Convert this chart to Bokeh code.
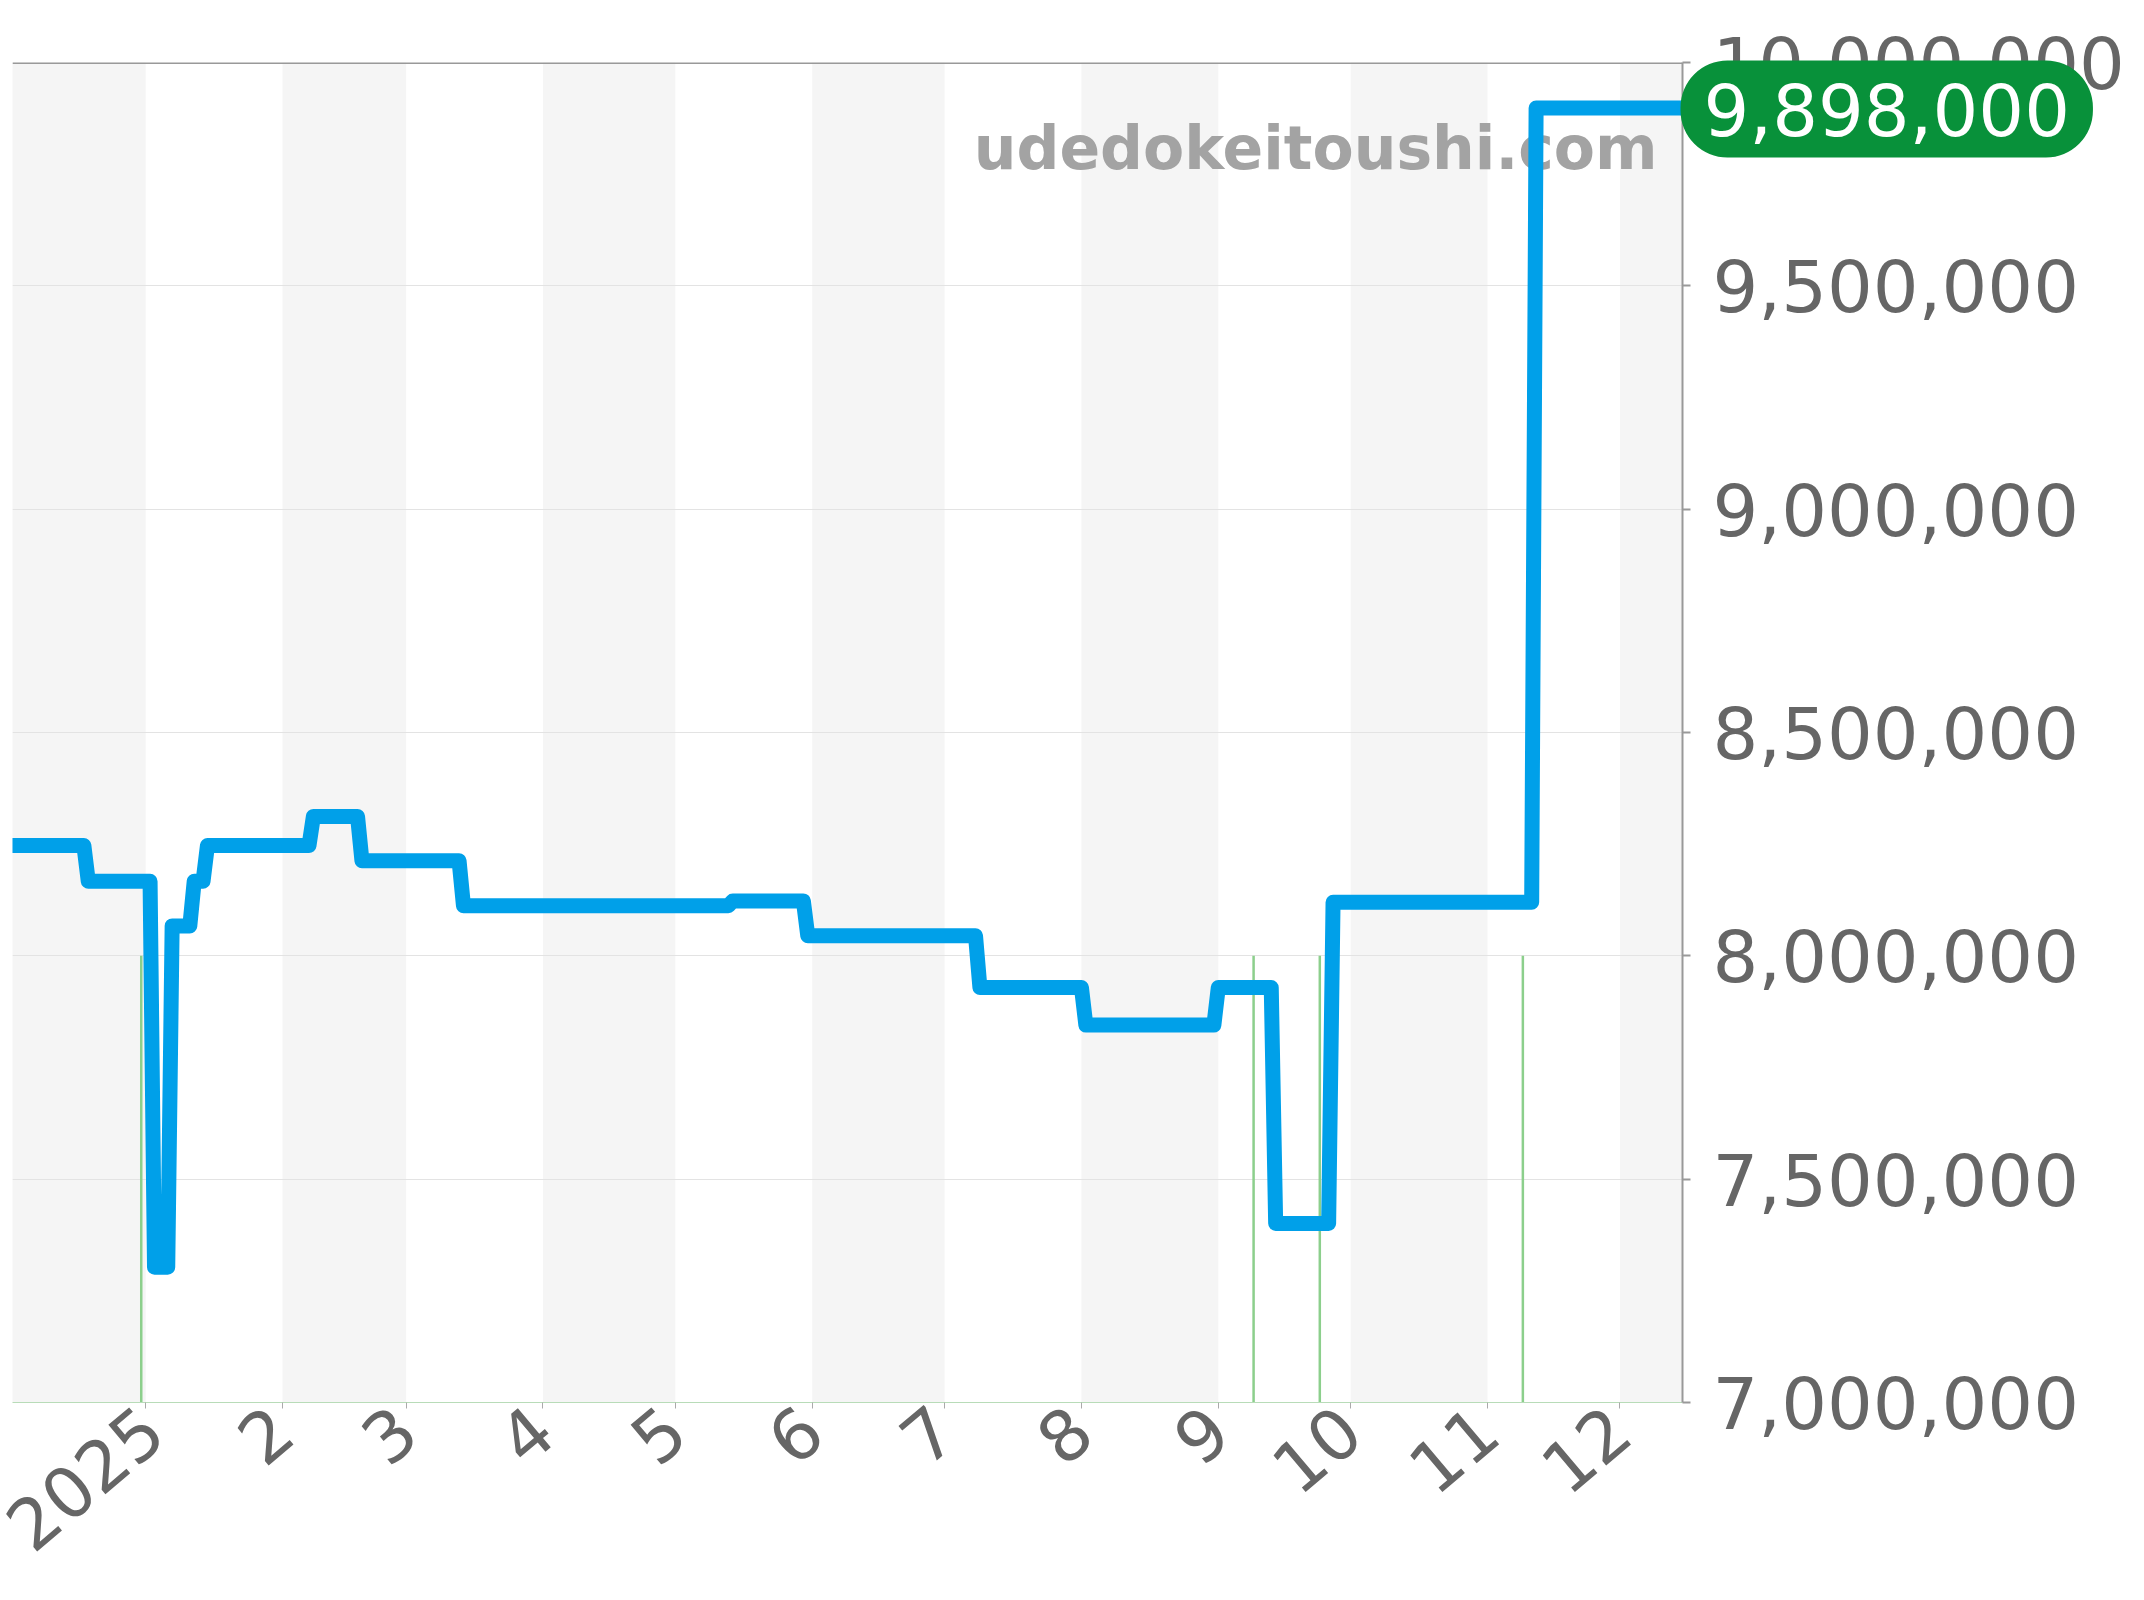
import pandas as pd
from datetime import datetime
from bokeh.plotting import figure
from bokeh.models import (Range1d, FixedTicker, NumeralTickFormatter,
                          ColumnDataSource, Label, Span, Title)
from bokeh.embed import file_html
from bokeh.resources import INLINE

# ---- data ----
dates = ["2024-12-01", "2024-12-18", "2024-12-19", "2025-01-02", "2025-01-03",
         "2025-01-06", "2025-01-07", "2025-01-11", "2025-01-12", "2025-01-14",
         "2025-01-15", "2025-02-07", "2025-02-08", "2025-02-18", "2025-02-19",
         "2025-03-13", "2025-03-14", "2025-05-13", "2025-05-14", "2025-05-30",
         "2025-05-31", "2025-07-08", "2025-07-09", "2025-08-01", "2025-08-02",
         "2025-08-31", "2025-09-01", "2025-09-13", "2025-09-14", "2025-09-26",
         "2025-09-27", "2025-11-11", "2025-11-12", "2025-12-16"]
prices = [8247000, 8247000, 8167000, 8167000, 7303000,
          7303000, 8067000, 8067000, 8167000, 8167000,
          8247000, 8247000, 8312000, 8312000, 8213000,
          8213000, 8112000, 8112000, 8123000, 8123000,
          8045000, 8045000, 7929000, 7929000, 7845000,
          7845000, 7929000, 7929000, 7401000, 7401000,
          8120000, 8120000, 9898000, 9898000]

marker_dates = ["2024-12-31", "2025-09-09", "2025-09-24", "2025-11-09"]
marker_base = [7000000, 7000000, 7000000, 7000000]
marker_tops = [8000000, 8000000, 8000000, 8000000]

month_starts = ["2024-12-01", "2025-01-01", "2025-02-01", "2025-03-01", "2025-04-01",
                "2025-05-01", "2025-06-01", "2025-07-01", "2025-08-01", "2025-09-01",
                "2025-10-01", "2025-11-01", "2025-12-01", "2026-01-01"]
tick_dates = ["2025-01-01", "2025-02-01", "2025-03-01", "2025-04-01", "2025-05-01",
              "2025-06-01", "2025-07-01", "2025-08-01", "2025-09-01", "2025-10-01",
              "2025-11-01", "2025-12-01"]
tick_labels = ["2025", "2", "3", "4", "5", "6", "7", "8", "9", "10", "11", "12"]
y_ticks = [7000000, 7500000, 8000000, 8500000, 9000000, 9500000, 10000000]
last_price_text = "9,898,000"
watermark = "udedokeitoushi.com"

# ---- figure ----
FONT = "DejaVu Sans"
x_start = datetime(2024, 12, 1, 20)
x_end = datetime(2025, 12, 15, 4)

p = figure(width=2144, height=1600, x_axis_type="datetime", y_axis_location="right",
           x_range=Range1d(x_start, x_end), y_range=Range1d(7000000, 10000000),
           output_backend="svg", toolbar_location=None,
           min_border_left=12, min_border_right=462, min_border_top=62, min_border_bottom=198)
p.outline_line_color = None
p.background_fill_color = "white"
p.border_fill_color = "white"

# alternating month bands
ms = pd.to_datetime(month_starts)
band_left = [ms[i] for i in range(0, len(ms) - 1, 2)]
band_right = [ms[i + 1] for i in range(0, len(ms) - 1, 2)]
bands = p.quad(left=band_left, right=band_right, bottom=6000000, top=11000000,
               fill_color="#f5f5f5", line_color=None)
bands.level = "image"

# grid
p.xgrid.visible = False
p.ygrid.ticker = FixedTicker(ticks=y_ticks)
p.ygrid.grid_line_color = "#e3e3e3"
p.ygrid.grid_line_width = 1

# watermark
wm = Label(x=x_end, y=10000000, x_offset=-25, y_offset=-85, text=watermark,
           text_align="right", text_baseline="alphabetic",
           text_font=FONT, text_font_style="bold", text_font_size="60px",
           text_color="#a3a3a3")
wm.level = "underlay"
p.add_layout(wm)

# green markers
msrc = ColumnDataSource(dict(x=pd.to_datetime(marker_dates), y0=marker_base, y1=marker_tops))
p.segment(x0="x", y0="y0", x1="x", y1="y1", source=msrc, line_color="#8ccf8c", line_width=2.5)

# price line
src = ColumnDataSource(dict(x=pd.to_datetime(dates), y=prices))
p.line("x", "y", source=src, line_color="#00a0e9", line_width=15,
       line_join="round", line_cap="butt")

# top border
p.add_layout(Span(location=10000000, dimension="width", line_color="#999999", line_width=3))

# y axis (right)
yax = p.yaxis[0]
yax.ticker = FixedTicker(ticks=y_ticks)
yax.formatter = NumeralTickFormatter(format="0,0")
yax.axis_line_color = "#999999"
yax.axis_line_width = 2
yax.major_tick_line_color = "#999999"
yax.major_tick_line_width = 2
yax.major_tick_in = 0
yax.major_tick_out = 8
yax.minor_tick_line_color = None
yax.major_label_standoff = 22
yax.major_label_text_font = FONT
yax.major_label_text_font_size = "72px"
yax.major_label_text_color = "#666666"

# x axis
tick_ms = [float(pd.Timestamp(d).value // 10**6) for d in tick_dates]
xax = p.xaxis[0]
xax.ticker = FixedTicker(ticks=tick_ms)
xax.major_label_overrides = {t: lab for t, lab in zip(tick_ms, tick_labels)}
xax.axis_line_color = "#b8dcb8"
xax.axis_line_width = 1
xax.major_tick_line_color = "#aaaaaa"
xax.major_tick_in = 0
xax.major_tick_out = 6
xax.minor_tick_line_color = None
xax.major_label_orientation = 0.70
xax.major_label_standoff = 12
xax.major_label_text_font = FONT
xax.major_label_text_font_size = "70px"
xax.major_label_text_color = "#666666"

# last price pill, as a title in the top panel (not clipped to the frame)
tprops = Title.properties()
kw = dict(text=last_price_text, align="left", offset=1668, vertical_align="bottom",
          standoff=-190, text_font=FONT, text_font_size="72px", text_font_style="normal",
          text_color="white", background_fill_color="#08913a")
if "padding" in tprops:
    kw["padding"] = (23, 22)
if "border_radius" in tprops:
    kw["border_radius"] = 47
pill = Title(**kw)
p.add_layout(pill, "above")

open("out.html", "w").write(file_html(p, INLINE))
